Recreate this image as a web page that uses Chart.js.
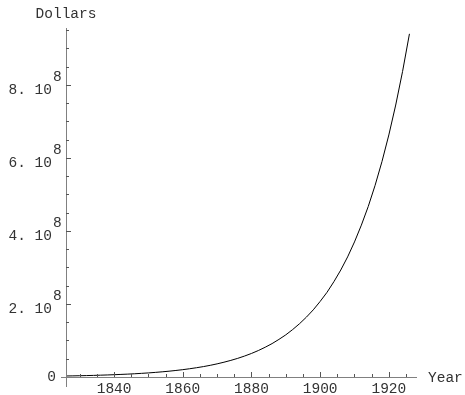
<!DOCTYPE html>
<html>
<head>
<meta charset="utf-8">
<script src="https://cdn.jsdelivr.net/npm/chart.js@4"></script>
<style>
  body { margin: 0; background: #fff; }
  #wrap { width: 465px; height: 395px; }
</style>
</head>
<body>
<div id="wrap"><canvas id="myChart"></canvas></div>
<script>
// years and dollar values (millions of dollars)
const years = [1826, 1828, 1830, 1832, 1834, 1836, 1838, 1840, 1842, 1844, 1846, 1848, 1850,
  1852, 1854, 1856, 1858, 1860, 1862, 1864, 1866, 1868, 1870, 1872, 1874, 1876, 1878, 1880,
  1882, 1884, 1886, 1888, 1890, 1892, 1894, 1896, 1898, 1900, 1902, 1904, 1906, 1908, 1910,
  1912, 1914, 1916, 1918, 1920, 1922, 1924, 1926];
const dollarsM = [2.8, 3.1, 3.5, 3.9, 4.4, 5.0, 5.6, 6.3, 7.1, 7.9, 8.9, 10, 11.2,
  12.6, 14.2, 15.9, 17.9, 20.1, 22.6, 25.4, 28.5, 32, 36, 40.5, 45.5, 51.1, 57.4, 64.5,
  72.5, 81.5, 91.5, 103, 115.5, 130, 146, 164, 184, 207, 232, 261, 293, 329, 370,
  416, 467, 525, 590, 663, 745, 837, 940];
const xTicks = [1840, 1860, 1880, 1900, 1920];
const yTicks = [2e8, 4e8, 6e8, 8e8];
const yTickText = ['2. 10', '4. 10', '6. 10', '8. 10'];
const yTickExp = '8';

const FONT = '14.5px "Liberation Mono", "Courier New", monospace';

const axesPlugin = {
  id: 'mmaAxes',
  afterDraw(chart) {
    const ctx = chart.ctx;
    const xs = chart.scales.x, ys = chart.scales.y;
    const x0 = xs.getPixelForValue(xs.min);
    const y0 = ys.getPixelForValue(0);
    const xEnd = xs.getPixelForValue(xs.max);
    const yTop = ys.getPixelForValue(ys.max);
    ctx.save();
    ctx.strokeStyle = '#808080';
    ctx.lineWidth = 1;
    ctx.beginPath();
    ctx.moveTo(x0 + 0.5, yTop);
    ctx.lineTo(x0 + 0.5, y0 + 10);
    ctx.moveTo(x0 - 5, y0 + 0.5);
    ctx.lineTo(xEnd, y0 + 0.5);
    ctx.stroke();

    // x ticks (minor every 5 years)
    ctx.strokeStyle = '#555';
    ctx.beginPath();
    for (let yr = 1830; yr <= 1925; yr += 5) {
      const px = Math.round(xs.getPixelForValue(yr)) + 0.5;
      const len = xTicks.includes(yr) ? 5 : 3;
      ctx.moveTo(px, y0);
      ctx.lineTo(px, y0 - len);
    }
    // y ticks (minor every 5e7)
    for (let v = 5e7; v <= 9.5e8; v += 5e7) {
      const py = Math.round(ys.getPixelForValue(v)) + 0.5;
      const major = yTicks.some(t => Math.abs(t - v) < 1);
      ctx.moveTo(x0, py);
      ctx.lineTo(x0 + (major ? 5 : 3), py);
    }
    ctx.stroke();

    ctx.fillStyle = '#333';
    ctx.font = FONT;
    ctx.textBaseline = 'middle';
    ctx.textAlign = 'center';
    xTicks.forEach(t => ctx.fillText(String(t), xs.getPixelForValue(t), y0 + 12));
    yTicks.forEach((t, i) => {
      const py = ys.getPixelForValue(t);
      ctx.textAlign = 'right';
      ctx.fillText(yTickText[i], x0 - 14, py + 5);
      ctx.textAlign = 'left';
      ctx.fillText(yTickExp, x0 - 13, py - 8);
    });
    ctx.textAlign = 'right';
    ctx.fillText('0', x0 - 10, y0);
    ctx.textAlign = 'center';
    ctx.fillText('Dollars', x0, 14);
    ctx.textAlign = 'left';
    ctx.fillText('Year', xEnd + 11, y0 + 1);
    ctx.restore();
  }
};

window.onload = () => {
  const ctx = document.getElementById('myChart').getContext('2d');
  new Chart(ctx, {
    type: 'line',
    data: {
      datasets: [{
        data: years.map((y, i) => ({ x: y, y: dollarsM[i] * 1e6 })),
        borderColor: '#000',
        borderWidth: 1,
        pointRadius: 0,
        tension: 0,
        fill: false,
      }],
    },
    options: {
      responsive: true,
      maintainAspectRatio: false,
      animation: false,
      layout: { padding: { left: 66, right: 48, top: 28, bottom: 18 } },
      plugins: { legend: { display: false }, tooltip: { enabled: false } },
      scales: {
        x: { type: 'linear', min: 1826, max: 1928.2, display: false },
        y: { type: 'linear', min: 0, max: 9.56e8, display: false },
      },
    },
    plugins: [axesPlugin],
  });
};
</script>
</body>
</html>
